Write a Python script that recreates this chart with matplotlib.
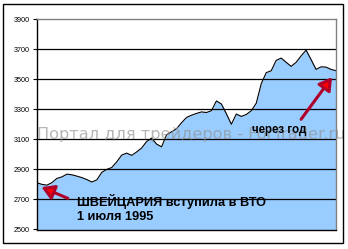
import numpy as np
import matplotlib
matplotlib.use("Agg")
import matplotlib.pyplot as plt
from matplotlib.patches import Rectangle

plt.rcParams['font.family'] = ['Liberation Sans', 'DejaVu Sans']

# index values (about one year after 1 July 1995)
values = [2811, 2800, 2795, 2812, 2840, 2850, 2868, 2864, 2855, 2845,
          2832, 2816, 2830, 2880, 2900, 2912, 2950, 2995, 3008, 2993,
          3016, 3042, 3085, 3108, 3068, 3050, 3130, 3150, 3170, 3210,
          3245, 3260, 3272, 3282, 3278, 3290, 3355, 3335, 3270, 3200,
          3268, 3252, 3265, 3290, 3340, 3470, 3543, 3556, 3625, 3640,
          3612, 3585, 3612, 3655, 3693, 3630, 3565, 3582, 3580, 3565,
          3556]
y_ticks = [2500, 2700, 2900, 3100, 3300, 3500, 3700, 3900]
watermark = "Портал для трейдеров - ForTrader.ru"
note_start = "ШВЕЙЦАРИЯ вступила в ВТО\n1 июля 1995"
note_end = "через год"

W, H = 348, 249
fig = plt.figure(figsize=(W / 100, H / 100), dpi=100)
fig.patch.set_facecolor('white')

# outer frame
fig.patches.append(Rectangle((3 / W, 1 - 243 / H), 340 / W, 239 / H,
                             transform=fig.transFigure, fill=False,
                             ec='black', lw=1))

ax = fig.add_axes([37 / W, 1 - 229.5 / H, 299 / W, 210.5 / H])
x = np.arange(len(values))
ax.fill_between(x, values, 2500, color='#99CCFF', lw=0, zorder=1)
ax.plot(x, values, color='black', lw=0.8, zorder=3)

ax.set_xlim(0, len(values) - 1)
ax.set_ylim(2500, 3900)
ax.set_yticks(y_ticks)
ax.set_yticklabels([str(v) for v in y_ticks], fontsize=5.2)
ax.set_xticks([])
ax.tick_params(axis='y', length=3, width=0.8, pad=2, color='black')
for v in y_ticks[1:-1]:
    ax.axhline(v, color='black', lw=0.9, zorder=2)

ax.spines['left'].set_color('black')
ax.spines['bottom'].set_color('black')
ax.spines['top'].set_color('#808080')
ax.spines['right'].set_color('#808080')
for s in ax.spines.values():
    s.set_linewidth(1)
    s.set_zorder(4)

ax.text(31, 3130, watermark, fontsize=11.6, color='#909090', alpha=0.65,
        ha='center', va='center', family=['DejaVu Sans'], clip_on=False,
        zorder=5)

ax.text(8, 2640, note_start, fontsize=9.2, fontweight='bold', ha='left',
        va='center', linespacing=1.15, zorder=6)
ax.text(43.2, 3160, note_end, fontsize=8.3, fontweight='bold', ha='left',
        va='center', zorder=6)

arrow = dict(arrowstyle='-|>,head_length=0.75,head_width=0.45', lw=2.2,
             ec='#B0002A', fc='#FF0000', shrinkA=0, shrinkB=0)
ax.annotate('', xy=(0.9, 2782), xytext=(6.2, 2707), arrowprops=arrow,
            zorder=7)
ax.annotate('', xy=(59.2, 3513), xytext=(53, 3233), arrowprops=arrow,
            zorder=7)

fig.savefig('out.png', dpi=100)
